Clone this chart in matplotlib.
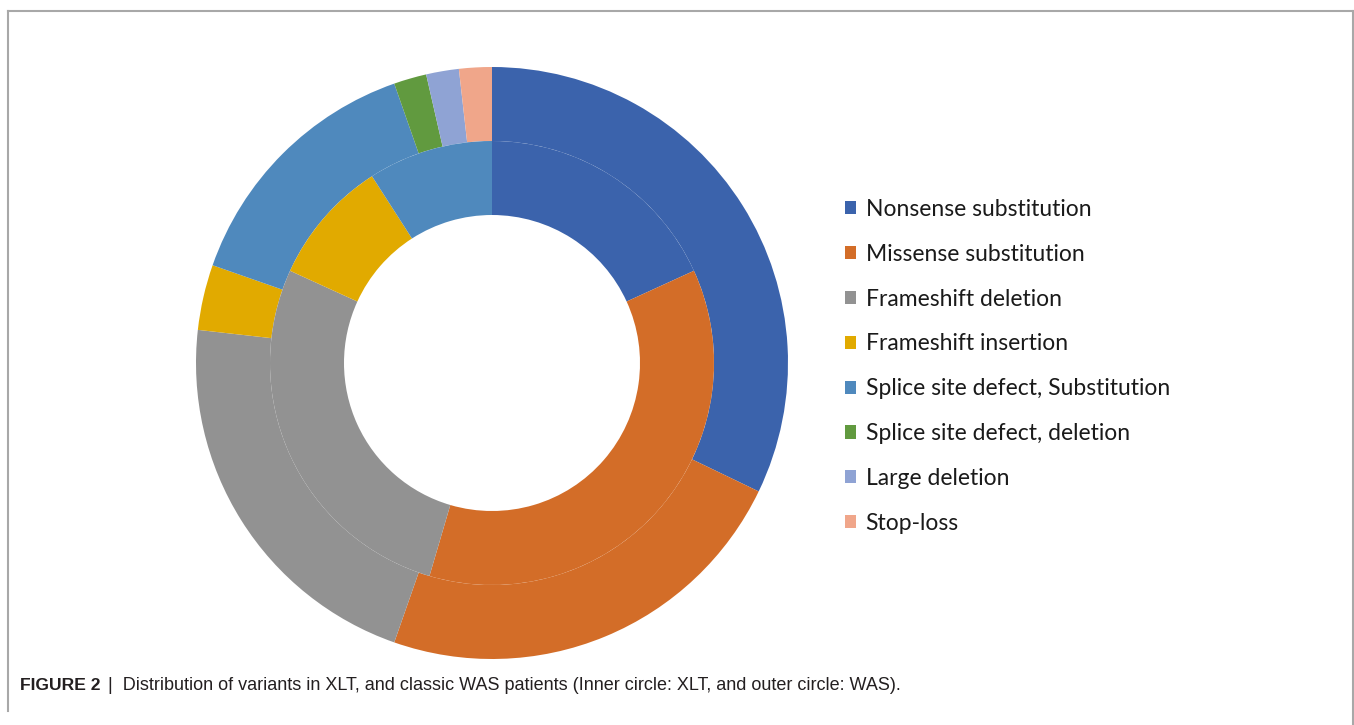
import matplotlib
matplotlib.use("Agg")
import matplotlib.pyplot as plt
from matplotlib.patches import Patch
from matplotlib.lines import Line2D

# ---- data ----
categories = ["Nonsense substitution", "Missense substitution", "Frameshift deletion",
              "Frameshift insertion", "Splice site defect, Substitution",
              "Splice site defect, deletion", "Large deletion", "Stop-loss"]
was_counts = [18, 13, 12, 2, 8, 1, 1, 1]   # outer circle: WAS
xlt_counts = [2, 4, 3, 1, 1, 0, 0, 0]      # inner circle: XLT
colors = ["#3B63AC", "#D36D28", "#929292", "#E1AA00", "#4F89BD",
          "#619A3F", "#8FA3D4", "#F0A68A"]
caption_bold = "FIGURE 2"
caption_rest = "|  Distribution of variants in XLT, and classic WAS patients (Inner circle: XLT, and outer circle: WAS)."

W, H = 1354, 725
fig = plt.figure(figsize=(W / 100, H / 100), dpi=100)
fig.patch.set_facecolor("white")

cx, cy, R = 492, 363, 296
ax = fig.add_axes([(cx - R) / W, (H - cy - R) / H, 2 * R / W, 2 * R / H])

ax.pie(was_counts, radius=1.0, colors=colors, startangle=90, counterclock=False,
       wedgeprops=dict(width=0.25, linewidth=0))
xlt_idx = [i for i, v in enumerate(xlt_counts) if v > 0]
ax.pie([xlt_counts[i] for i in xlt_idx], radius=0.75, colors=[colors[i] for i in xlt_idx],
       startangle=90, counterclock=False, wedgeprops=dict(width=0.25, linewidth=0))
ax.set_xlim(-1, 1)
ax.set_ylim(-1, 1)
ax.set_aspect("equal")
ax.axis("off")

handles = [Patch(facecolor=c, edgecolor="none") for c in colors]
leg = fig.legend(handles, categories, loc="upper left",
                 bbox_to_anchor=(845 / W, 1 - 199 / H), frameon=False,
                 prop=dict(family=["Lato", "DejaVu Sans"], size=16.5),
                 handlelength=0.5, handleheight=0.5, handletextpad=0.4,
                 labelspacing=1.04, borderpad=0, borderaxespad=0)
for t in leg.get_texts():
    t.set_color("#1a1a1a")

# frame
gray = "#A8A8A8"
fig.add_artist(Line2D([8 / W, 1353 / W], [1 - 11 / H, 1 - 11 / H], color=gray, lw=1.5, transform=fig.transFigure))
fig.add_artist(Line2D([8 / W, 8 / W], [1 - 11 / H, 1 - 711 / H], color=gray, lw=1.5, transform=fig.transFigure))
fig.add_artist(Line2D([1352.5 / W, 1352.5 / W], [1 - 11 / H, 0], color=gray, lw=1.5, transform=fig.transFigure))

cap_font = ["Liberation Sans Narrow", "Liberation Sans", "DejaVu Sans"]
t1 = fig.text(20 / W, 1 - 690 / H, caption_bold, family=cap_font, weight="bold",
              size=12.6, color="#231F20", va="baseline", ha="left")
fig.canvas.draw()
bb = t1.get_window_extent()
fig.text((bb.x1 + 7) / W, 1 - 690 / H, caption_rest, family=cap_font, size=13.0,
         color="#231F20", va="baseline", ha="left")

fig.savefig("out.png", dpi=100, facecolor="white")
